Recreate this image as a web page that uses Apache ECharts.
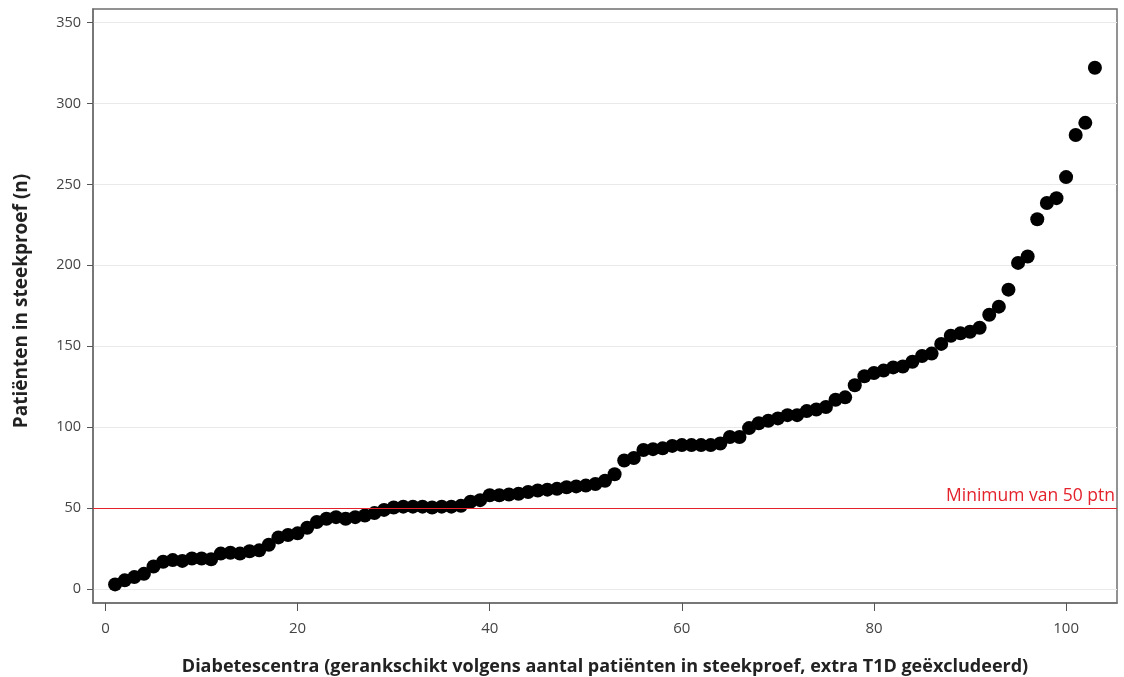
<!DOCTYPE html>
<html>
<head>
<meta charset="utf-8">
<title>Diabetescentra</title>
<script src="https://cdn.jsdelivr.net/npm/echarts@6/dist/echarts.min.js"></script>
<style>
  html, body { margin: 0; padding: 0; background: #fff; }
  #chart { width: 1124px; height: 677px; }
</style>
</head>
<body>
<div id="chart"></div>
<script>
// Number of patients in the sample per diabetes centre, sorted ascending (rank = position + 1)
const patienten = [
  3, 5.5, 7.5, 9.5, 14, 17, 18, 17.5, 19, 19,
  18.5, 22, 22.5, 22, 23.5, 24, 27.5, 32, 33.5, 34.5,
  38, 41.5, 43.5, 44.5, 43.5, 44.5, 45.5, 47, 49, 50.5,
  51, 51, 51, 50.5, 51, 51, 51.5, 54, 55, 58,
  58, 58.5, 59, 60, 61, 61.5, 62, 63, 63.5, 64,
  65, 67, 71, 79.5, 81, 86, 86.5, 87, 88.5, 89,
  89, 89, 89, 90, 94, 94, 99.5, 102.5, 104, 105.5,
  107.5, 107.5, 110, 111, 112.5, 117, 118.5, 126, 131.5, 133.5,
  135, 137, 137.5, 140.5, 144, 145.5, 151.5, 156.5, 158, 159,
  161.5, 169.5, 174.5, 185, 201.5, 205.5, 228.5, 238.5, 241.5, 254.5,
  280.5, 288, 322
];

const xTicks = [0, 20, 40, 60, 80, 100];
const yTicks = [0, 50, 100, 150, 200, 250, 300, 350];
const minimumPatienten = 50;

const xTitle = 'Diabetescentra (gerankschikt volgens aantal patiënten in steekproef, extra T1D geëxcludeerd)';
const yTitle = 'Patiënten in steekproef (n)';
const minimumLabel = 'Minimum van 50 ptn';

const red = '#e3222c';
const frame = '#6f6f6f';
const font = "'Open Sans', sans-serif";

const points = patienten.map((v, i) => [i + 1, v]);

const chart = echarts.init(document.getElementById('chart'), null, { renderer: 'canvas' });

chart.setOption({
  animation: false,
  backgroundColor: '#ffffff',
  grid: {
    left: 93, right: 7, top: 9, bottom: 74,
    outerBoundsMode: 'none',
    containLabel: false,
    show: true, borderColor: frame, borderWidth: 1.5, backgroundColor: 'transparent'
  },
  xAxis: {
    type: 'value',
    min: -1.3, max: 105.3,
    axisLine: { show: true, onZero: false, lineStyle: { color: frame, width: 1.5 } },
    axisTick: { show: true, customValues: xTicks, length: 8, lineStyle: { color: '#555', width: 1 } },
    axisLabel: {
      customValues: xTicks, margin: 18,
      color: '#444', fontSize: 15, fontFamily: font
    },
    splitLine: { show: false },
    name: xTitle,
    nameLocation: 'middle',
    nameGap: 55,
    nameTextStyle: {
      color: '#222', fontSize: 18, fontWeight: 'bold', fontFamily: font
    }
  },
  yAxis: {
    type: 'value',
    min: -8.5, max: 358.3,
    axisLine: { show: true, onZero: false, lineStyle: { color: frame, width: 1.5 } },
    axisTick: { show: true, customValues: yTicks, length: 6, lineStyle: { color: '#555', width: 1 } },
    axisLabel: {
      customValues: yTicks, margin: 12,
      color: '#444', fontSize: 14.5, fontFamily: font
    },
    splitLine: { show: true, lineStyle: { color: '#e9e9e9', width: 1 } }
  },
  graphic: [{
    type: 'text',
    x: 22, y: 301,
    rotation: Math.PI / 2,
    style: {
      text: yTitle,
      align: 'center', verticalAlign: 'middle',
      fill: '#222',
      font: "bold 19px 'Open Sans', sans-serif"
    }
  }],
  series: [
    {
      type: 'line',
      data: [],
      z: 1,
      silent: true,
      color: red,
      markLine: {
        silent: true,
        symbol: 'none',
        animation: false,
        lineStyle: { color: red, width: 1.2, type: 'solid', opacity: 1 },
        emphasis: { disabled: true },
        label: {
          show: true,
          position: 'insideEndTop',
          distance: [2, 3],
          formatter: minimumLabel,
          color: red,
          fontSize: 17.5,
          fontFamily: font
        },
        data: [{ yAxis: minimumPatienten }]
      }
    },
    {
      type: 'scatter',
      z: 3,
      symbol: 'circle',
      symbolSize: 14,
      itemStyle: { color: '#000', opacity: 1 },
      data: points
    }
  ]
});
</script>
</body>
</html>
